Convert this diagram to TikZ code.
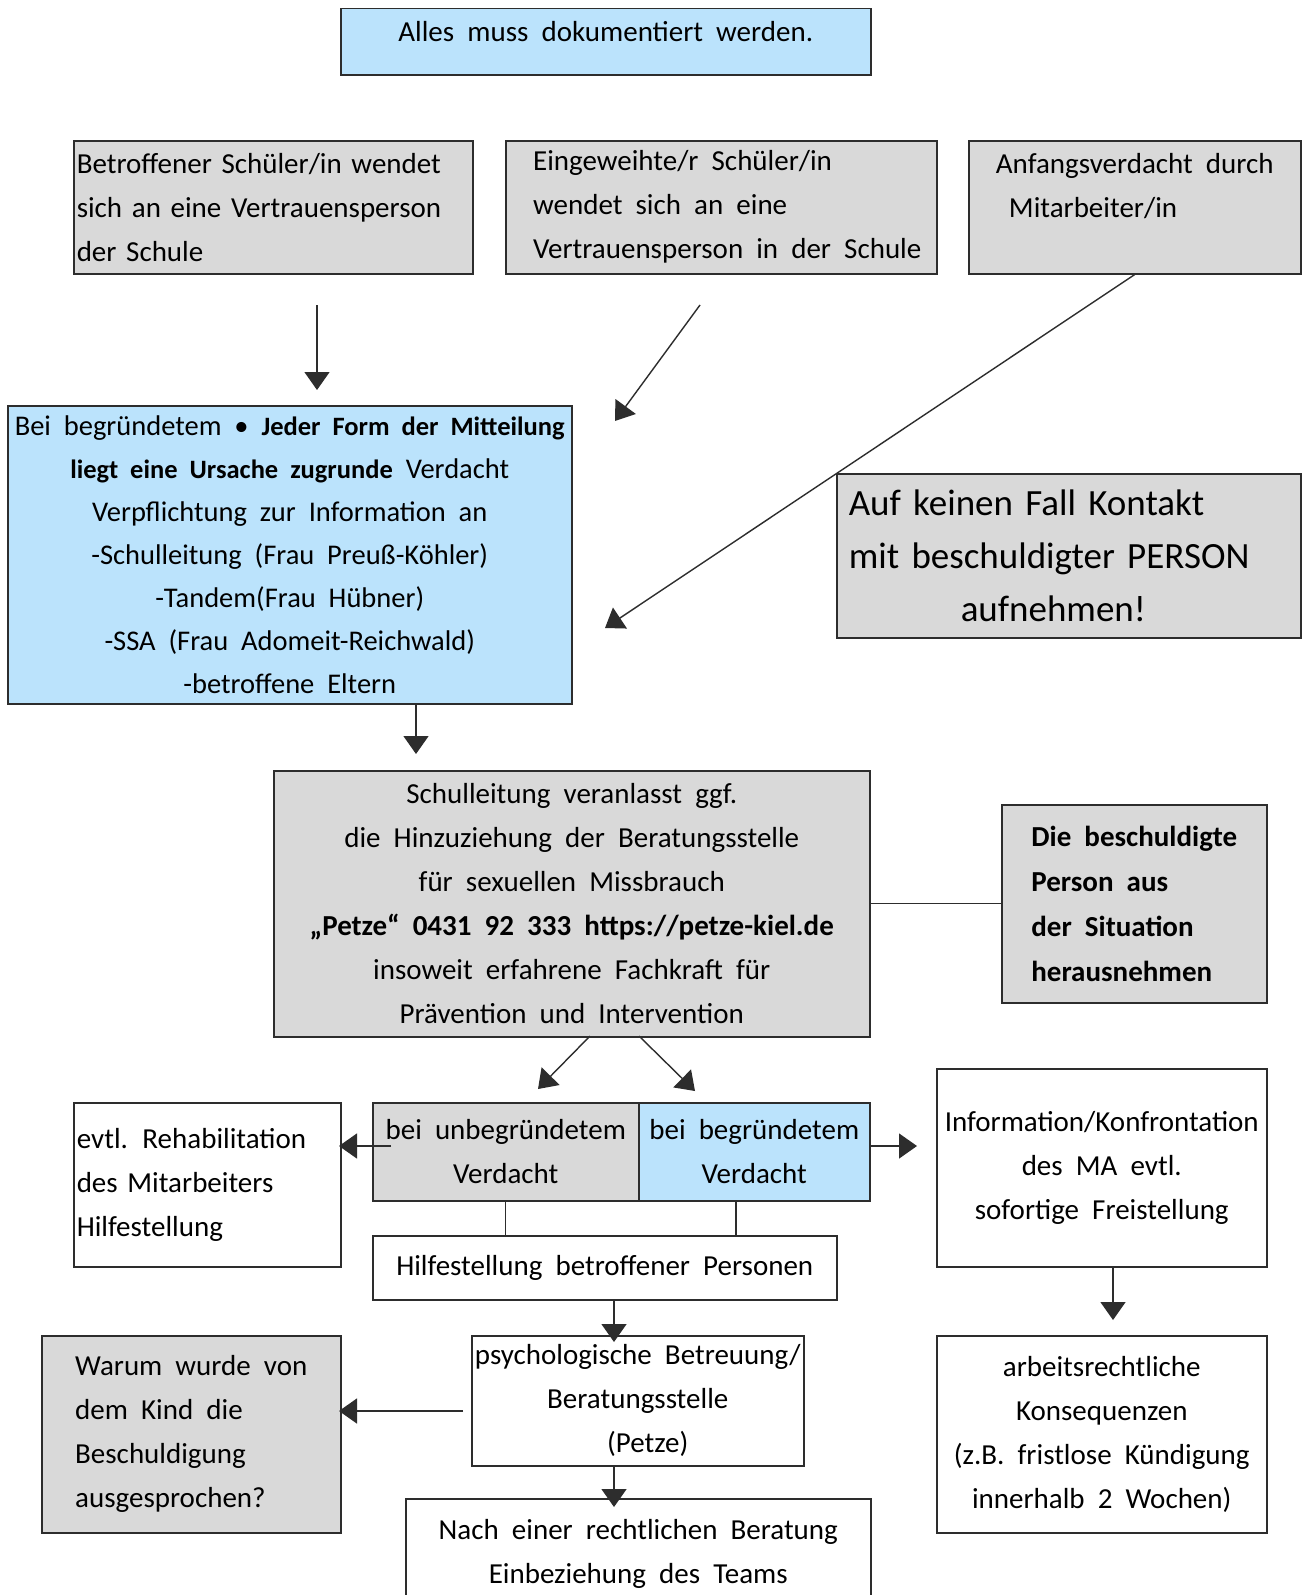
\documentclass[tikz,border=0pt]{standalone}
\usepackage{fontspec}
\setmainfont{Carlito}[WordSpace=2]
\usetikzlibrary{arrows.meta}
\definecolor{boxblue}{RGB}{187,227,252}
\definecolor{boxgray}{RGB}{217,217,217}
\definecolor{rim}{RGB}{45,45,45}
\tikzset{
  box/.style={draw=rim,line width=1.5pt,anchor=north west,inner sep=3pt,align=center,
    font=\fontsize{29}{44}\selectfont},
  graybox/.style={box,fill=boxgray},
  bluebox/.style={box,fill=boxblue},
  whitebox/.style={box,fill=white},
  arr/.style={-{Triangle[length=18pt,width=25pt]},line width=1.4pt,draw=rim},
  con/.style={line width=1.4pt,draw=rim},
}
\begin{document}
\begin{tikzpicture}[x=1pt,y=-1pt]
\useasboundingbox[fill=white](0,0)rectangle(1302,1595);
% top row
\node[bluebox,minimum width=530pt,minimum height=66pt,inner ysep=0pt,text depth=20pt](doku)at(340,8){Alles muss dokumentiert werden.};
\node[graybox,align=left,text width=393pt,minimum height=133pt](betr)at(73,140){Betroffener Schüler/in wendet\\sich an eine Vertrauensperson\\der Schule};
\node[graybox,align=left,minimum width=431pt,minimum height=133pt](eing)at(505,140){\hspace*{12pt}Eingeweihte/r Schüler/in\\\hspace*{12pt}wendet sich an eine\\\hspace*{12pt}Vertrauensperson in der Schule};
\node[graybox,align=left,minimum width=332pt,minimum height=133pt](anf)at(968,140){Anfangsverdacht durch\\\hspace*{13pt}Mitarbeiter/in\\~};
% information
\node[bluebox,inner sep=1pt,minimum width=564pt,minimum height=298pt,font=\fontsize{28.5}{43}\selectfont](pflicht)at(7,405){Bei begründetem \textbullet\ {\fontsize{26.5}{43}\selectfont\bfseries Jeder Form der Mitteilung}\\{\fontsize{26.5}{43}\selectfont\bfseries liegt eine Ursache zugrunde} Verdacht\\Verpflichtung zur Information an\\-Schulleitung (Frau Preuß-Köhler)\\-Tandem(Frau Hübner)\\-SSA (Frau Adomeit-Reichwald)\\-betroffene Eltern};
\node[graybox,align=left,text width=440pt,inner xsep=12pt,minimum height=164pt,font=\fontsize{37}{53}\selectfont](kontakt)at(836,473){Auf keinen Fall Kontakt\\mit beschuldigter PERSON\\\hspace*{112pt}aufnehmen!};
\node[graybox,minimum width=596pt,minimum height=266pt](schul)at(273,770){Schulleitung veranlasst ggf.\\die Hinzuziehung der Beratungsstelle\\für sexuellen Missbrauch\\\textbf{„Petze“ 0431 92 333 https://petze-kiel.de}\\insoweit erfahrene Fachkraft für\\Prävention und Intervention};
\node[graybox,align=left,minimum width=265pt,minimum height=198pt,font=\fontsize{29}{45}\bfseries](raus)at(1001,804){Die beschuldigte\\Person aus\\der Situation\\herausnehmen};
% Verdacht
\node[whitebox,align=left,text width=261pt,minimum height=164pt](reha)at(73,1102){evtl. Rehabilitation\\des Mitarbeiters\\Hilfestellung};
\node[graybox,minimum width=266pt,minimum height=98pt](unbeg)at(372,1102){bei unbegründetem\\Verdacht};
\node[bluebox,minimum width=231pt,minimum height=98pt](beg)at(638,1102){bei begründetem\\Verdacht};
\node[whitebox,minimum width=330pt,minimum height=198pt](info)at(936,1068){Information/Konfrontation\\des MA evtl.\\sofortige Freistellung};
\node[whitebox,minimum width=464pt,minimum height=64pt](hilfe)at(372,1235){Hilfestellung betroffener Personen};
% bottom row
\node[whitebox,minimum width=332pt,minimum height=130pt](psych)at(471,1335){psychologische Betreuung/\\Beratungsstelle\\\hspace*{20pt}(Petze)};
\node[graybox,align=left,minimum width=299pt,minimum height=197pt](warum)at(41,1335){Warum wurde von\\dem Kind die\\Beschuldigung\\ausgesprochen?};
\node[whitebox,minimum width=330pt,minimum height=197pt](arbeit)at(936,1335){arbeitsrechtliche\\Konsequenzen\\(z.B. fristlose Kündigung\\innerhalb 2 Wochen)};
\node[whitebox,minimum width=465pt,minimum height=110pt](team)at(405,1498){Nach einer rechtlichen Beratung\\Einbeziehung des Teams};
% free ends
\coordinate(p1)at(317,305);\coordinate(q1)at(317,390);
\coordinate(p2)at(700,305);\coordinate(q2)at(615,421);
\coordinate(q3)at(605,628);
\coordinate(p4)at(416,703);\coordinate(q4)at(416,754);
\coordinate(p6)at(590,1036);\coordinate(q6)at(538,1089);
\coordinate(p7)at(639,1036);\coordinate(q7)at(695,1091);
\coordinate(p8)at(391,1146);\coordinate(q8)at(339,1146);
\coordinate(p9)at(869,1146);\coordinate(q9)at(917,1146);
\coordinate(p10)at(736,1200);
\coordinate(p11)at(614,1299);\coordinate(q11)at(614,1342);
\coordinate(p12)at(463,1411);\coordinate(q12)at(339,1411);
\coordinate(p13)at(614,1465);\coordinate(q13)at(614,1507);
\coordinate(p14)at(1113,1266);\coordinate(q14)at(1113,1320);
% connectors
\draw[arr](p1)--(q1);
\draw[arr](p2)--(q2);
\draw[arr](anf.south)--(q3);
\draw[arr](p4)--(q4);
\draw[con](schul.east)--(raus.west);
\draw[arr](p6)--(q6);
\draw[arr](p7)--(q7);
\draw[arr](p8)--(q8);
\draw[arr](p9)--(q9);
\draw[con](unbeg.south)--(unbeg.south|-hilfe.north);
\draw[con](p10)--(p10|-hilfe.north);
\draw[arr](p11)--(q11);
\draw[arr](p12)--(q12);
\draw[arr](p13)--(q13);
\draw[arr](p14)--(q14);
\end{tikzpicture}
\end{document}
